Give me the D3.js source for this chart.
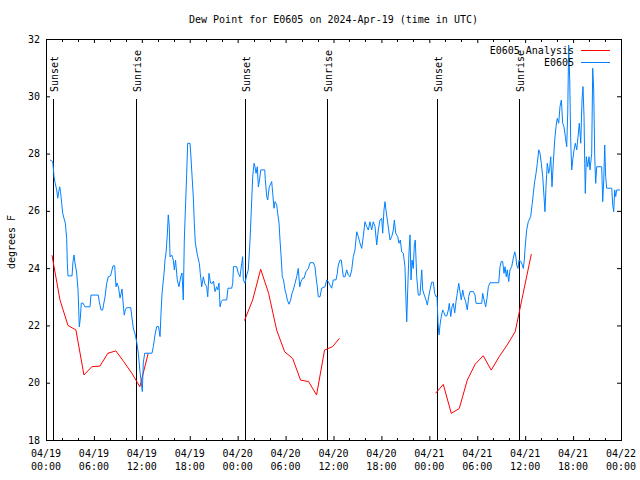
<!DOCTYPE html>
<html><head><meta charset="utf-8">
<script src="https://cdn.jsdelivr.net/npm/d3@7"></script>
<style>
html,body{margin:0;padding:0;background:#fff;}
text{font-family:"DejaVu Sans Mono","Liberation Mono",monospace;font-size:10px;fill:#000;}
</style></head><body>
<svg id="chart" width="640" height="480"></svg>
<script>
// ---- data (hours since 2024-04-19 00:00 UTC) ----
const title = "Dew Point for E0605 on 2024-Apr-19 (time in UTC)";
const yLabel = "degrees F";
const yTicks = [18, 20, 22, 24, 26, 28, 30, 32];
const xTickHours = [0, 6, 12, 18, 24, 30, 36, 42, 48, 54, 60, 66, 72];
const xTickDates = ["04/19","04/19","04/19","04/19","04/20","04/20","04/20","04/20","04/21","04/21","04/21","04/21","04/22"];
const xTickTimes = ["00:00","06:00","12:00","18:00","00:00","06:00","12:00","18:00","00:00","06:00","12:00","18:00","00:00"];
const sunEventHours = [0.88, 11.31, 24.96, 35.22, 49.0, 59.27];
const sunEventNames = ["Sunset","Sunrise","Sunset","Sunrise","Sunset","Sunrise"];

const obsHours = [0.50,0.84,0.94,1.00,1.16,1.34,1.47,1.59,1.72,1.84,1.97,2.09,2.25,2.42,2.59,2.67,2.75,3.26,3.38,3.51,3.63,3.84,4.01,4.17,4.30,4.42,4.63,4.88,5.51,5.63,6.55,6.67,6.89,7.10,7.20,7.39,7.60,7.80,8.08,8.39,8.60,8.77,8.89,9.08,9.27,9.39,9.52,9.68,9.80,9.93,10.11,10.61,10.77,10.93,11.18,11.36,11.56,11.77,11.90,12.06,12.18,12.36,13.27,13.44,13.65,13.86,14.09,14.28,14.40,14.53,14.78,14.90,15.03,15.19,15.31,15.44,15.53,15.74,15.94,16.07,16.22,16.44,16.65,16.87,17.03,17.19,17.32,17.44,17.62,17.74,18.03,18.12,18.28,18.45,18.57,18.70,18.95,19.20,19.32,19.50,19.70,19.87,20.12,20.25,20.41,20.60,20.82,20.97,21.16,21.37,21.51,21.66,21.79,21.95,22.13,22.63,22.79,23.25,23.38,23.48,23.88,24.08,24.29,24.51,24.63,24.71,24.92,25.13,25.33,25.55,25.76,25.88,26.05,26.17,26.30,26.46,26.59,26.74,26.89,27.39,27.46,27.64,27.76,27.96,28.26,28.39,28.55,28.68,28.89,29.01,29.18,29.30,29.43,29.59,29.74,29.93,30.05,30.22,30.43,30.64,30.80,30.97,31.18,31.39,31.59,31.77,31.93,32.14,32.31,32.56,32.85,33.06,33.47,33.68,33.81,33.97,34.10,34.31,34.52,34.94,35.15,35.35,35.56,35.77,35.98,36.31,36.48,36.60,36.81,36.98,37.10,37.23,37.44,37.65,37.85,38.07,38.28,38.48,38.69,38.91,39.11,39.32,39.53,39.73,39.94,40.16,40.36,40.57,40.78,40.98,41.20,41.41,41.61,41.82,42.04,42.16,42.32,42.45,42.57,42.74,42.91,43.08,43.29,43.49,43.62,43.79,44.04,44.20,44.37,44.54,44.74,44.95,45.08,45.17,45.29,45.45,45.58,45.71,45.83,45.99,46.12,46.24,46.42,46.62,46.83,47.05,47.17,47.37,47.58,47.75,47.92,48.08,48.30,48.50,48.67,48.84,48.96,49.09,49.21,49.34,49.46,49.67,49.84,50.00,50.18,50.38,50.50,50.68,50.84,51.00,51.18,51.34,51.50,51.68,51.84,52.00,52.18,52.34,52.55,52.75,52.93,53.09,53.51,53.72,53.85,54.56,54.68,54.85,55.06,55.22,55.39,55.60,56.69,56.85,57.01,57.18,57.35,57.48,57.64,57.76,57.94,58.10,58.31,58.51,58.69,58.81,58.94,59.10,59.23,59.48,59.64,59.77,59.89,60.02,60.19,60.39,60.69,60.89,61.02,61.19,61.36,61.52,61.70,61.86,62.02,62.20,62.36,62.48,62.61,62.77,62.95,63.07,63.20,63.36,63.52,63.70,63.86,64.02,64.20,64.36,64.53,64.70,64.86,65.03,65.20,65.33,65.45,65.58,65.70,65.83,65.96,66.12,66.28,66.46,66.62,66.78,66.96,67.12,67.24,67.37,67.46,67.53,67.66,67.83,67.99,68.12,68.33,68.46,68.58,68.71,68.83,68.96,69.58,69.71,69.84,69.96,70.08,70.21,70.84,70.96,71.09,71.21,71.34,71.46,71.88];
const obsValues = [27.78,27.72,27.43,27.19,26.96,26.73,26.44,26.67,26.84,26.61,26.26,25.92,25.74,25.57,25.04,24.17,23.73,23.73,24.22,24.46,24.18,23.83,23.24,21.95,22.26,22.78,22.78,22.65,22.65,23.06,23.06,22.83,22.54,22.54,22.71,23.00,23.47,23.70,23.73,24.08,24.08,23.35,23.48,23.34,22.96,23.10,23.27,22.71,22.36,22.54,22.62,22.62,22.26,21.91,21.67,21.42,21.03,20.38,20.09,19.69,20.69,21.03,21.03,21.26,21.67,21.96,21.96,21.61,22.42,23.12,23.82,24.28,24.53,25.16,25.86,25.44,24.39,24.46,24.28,23.94,24.28,23.59,23.35,23.70,23.83,22.89,24.98,25.93,27.32,28.36,28.36,28.02,27.25,26.45,25.57,24.88,24.46,24.17,23.82,23.35,23.70,23.47,23.35,23.00,23.82,23.48,23.47,23.55,23.18,23.35,23.24,23.48,22.65,22.83,22.89,22.89,23.30,23.30,23.47,24.05,24.05,23.82,23.70,24.17,24.40,23.59,23.47,23.76,23.94,24.98,26.38,27.19,27.66,27.54,27.31,27.54,26.84,27.08,27.43,27.43,27.08,26.50,26.38,26.84,27.02,26.61,26.09,26.32,26.21,25.92,25.57,24.98,24.46,23.70,23.59,23.24,23.12,22.89,22.74,22.89,23.12,23.24,23.47,23.70,23.99,23.35,23.53,23.65,23.65,23.88,23.99,24.19,24.19,24.05,23.70,23.35,23.00,23.00,23.30,23.35,23.59,23.53,23.41,23.30,23.59,23.59,23.82,24.11,24.28,24.28,23.99,23.70,23.70,23.94,23.76,23.70,23.94,24.40,24.63,25.27,25.10,24.87,24.69,25.10,25.62,25.45,25.33,25.62,25.33,25.62,25.45,24.81,25.33,25.68,25.74,25.22,26.03,26.32,26.03,25.68,25.33,24.98,25.10,25.33,25.68,25.22,25.10,24.87,24.98,24.57,24.52,24.05,22.83,22.13,23.24,24.53,25.16,23.59,24.28,23.99,24.81,24.98,23.70,23.06,23.06,23.94,23.24,23.06,22.89,22.71,23.00,23.24,23.51,23.51,23.12,23.00,23.03,22.07,21.67,22.02,22.25,22.54,22.44,22.33,22.33,22.54,22.77,22.31,22.65,22.77,22.44,22.83,23.12,23.47,23.18,22.89,23.24,23.00,22.83,22.54,23.00,23.18,23.18,23.06,22.77,22.77,23.12,22.89,22.65,22.95,23.35,23.49,23.49,24.05,24.23,24.23,23.82,24.05,23.70,23.94,23.53,23.94,24.05,24.34,24.57,24.46,24.11,23.99,24.28,24.23,24.11,23.99,24.28,24.81,25.33,25.62,25.80,26.26,26.61,27.02,27.31,27.66,28.13,28.01,27.66,27.19,26.50,25.97,26.84,27.66,27.31,27.49,27.89,26.84,27.66,28.47,28.94,29.23,29.06,29.64,29.87,29.06,28.94,28.59,28.24,29.41,31.79,30.57,28.47,27.43,27.78,28.13,28.36,28.13,28.59,29.06,28.36,29.87,30.34,29.29,27.66,26.61,27.89,27.54,27.89,27.43,28.01,30.98,30.22,27.89,26.96,27.54,27.54,26.32,27.08,28.30,27.19,26.79,26.79,26.21,25.97,26.73,26.50,26.73,26.73];

const anaHours1 = [0.75,1.75,2.75,3.75,4.75,5.75,6.75,7.75,8.75,9.75,10.75,11.75,12.80];
const anaValues1 = [24.45,22.89,22.00,21.84,20.27,20.56,20.58,21.03,21.11,20.73,20.33,19.86,21.03];
const anaHours2 = [24.85,25.88,26.88,27.88,28.88,29.88,30.88,31.88,32.88,33.88,34.88,35.88,36.75];
const anaValues2 = [22.17,22.89,23.96,23.12,21.84,21.08,20.85,20.09,20.04,19.57,21.14,21.26,21.55];
const anaHours3 = [48.78,49.75,50.75,51.75,52.75,53.75,54.75,55.75,56.75,57.75,58.75,59.75,60.77];
const anaValues3 = [19.63,19.94,18.93,19.10,20.09,20.65,20.94,20.44,20.91,21.32,21.78,23.12,24.49];

const seriesNames = ["E0605 Analysis", "E0605"];
const seriesColors = ["#ff0000", "#0080ff"];

// ---- drawing ----
const svg = d3.select("#chart");
const L = 46, R = 621, T = 39, B = 440;
const x = d3.scaleLinear().domain([0, 72]).range([L, R]);
const y = d3.scaleLinear().domain([18, 32]).range([B, T]);

svg.append("rect").attr("width", 640).attr("height", 480).attr("fill", "#fff");

// title
svg.append("text").attr("x", (L + R) / 2).attr("y", 23).attr("text-anchor", "middle").text(title);

// y label
svg.append("text").attr("transform", "translate(14.5,242) rotate(-90)").attr("text-anchor", "middle").text(yLabel);

const g = svg.append("g");

// minor x ticks (every 2 h), mirrored top
const minorX = d3.range(0, 73, 2).filter(h => h % 6 !== 0);
g.selectAll(".mxb").data(minorX).join("line")
  .attr("x1", d => Math.round(x(d)) + 0.5).attr("x2", d => Math.round(x(d)) + 0.5)
  .attr("y1", B).attr("y2", B - 2).attr("stroke", "#000");
g.selectAll(".mxt").data(minorX).join("line")
  .attr("x1", d => Math.round(x(d)) + 0.5).attr("x2", d => Math.round(x(d)) + 0.5)
  .attr("y1", T + 1).attr("y2", T + 3).attr("stroke", "#000");

const xAxisB = d3.axisBottom(x).tickValues(xTickHours).tickSize(-4).tickFormat("");
const xAxisT = d3.axisTop(x).tickValues(xTickHours).tickSize(-4).tickFormat("");
const yAxisL = d3.axisLeft(y).tickValues(yTicks).tickSize(-4).tickFormat("");
const yAxisR = d3.axisRight(y).tickValues(yTicks).tickSize(-4).tickFormat("");
function styleAxis(sel) { sel.select(".domain").remove(); sel.selectAll("line").attr("stroke", "#000"); }
g.append("g").attr("transform", `translate(0,${B})`).call(xAxisB).call(styleAxis);
g.append("g").attr("transform", `translate(0,${T})`).call(xAxisT).call(styleAxis);
g.append("g").attr("transform", `translate(${L},0)`).call(yAxisL).call(styleAxis);
g.append("g").attr("transform", `translate(${R},0)`).call(yAxisR).call(styleAxis);

// tick labels
yTicks.forEach(v => {
  svg.append("text").attr("x", 40).attr("y", y(v) + 3.5).attr("text-anchor", "end").text(v);
});
xTickHours.forEach((h, i) => {
  svg.append("text").attr("x", x(h)).attr("y", 457).attr("text-anchor", "middle").text(xTickDates[i]);
  svg.append("text").attr("x", x(h)).attr("y", 470).attr("text-anchor", "middle").text(xTickTimes[i]);
});

// frame
svg.append("rect").attr("x", L + 0.5).attr("y", T + 0.5).attr("width", R - L).attr("height", B - T)
  .attr("fill", "none").attr("stroke", "#000");

// sunrise / sunset
sunEventHours.forEach((h, i) => {
  const xx = Math.round(x(h)) + 0.5;
  svg.append("line").attr("x1", xx).attr("x2", xx).attr("y1", 99).attr("y2", B).attr("stroke", "#000");
  svg.append("text").attr("transform", `translate(${xx + 4.5},92) rotate(-90)`).attr("text-anchor", "start").text(sunEventNames[i]);
});

// lines
const line = d3.line().x(d => x(d[0])).y(d => y(d[1]));
[[anaHours1, anaValues1], [anaHours2, anaValues2], [anaHours3, anaValues3]].forEach(([hs, vs]) => {
  svg.append("path").datum(hs.map((h, i) => [h, vs[i]])).attr("d", line)
    .attr("fill", "none").attr("stroke", seriesColors[0]).attr("stroke-width", 1);
});
svg.append("path").datum(obsHours.map((h, i) => [h, obsValues[i]])).attr("d", line)
  .attr("fill", "none").attr("stroke", seriesColors[1]).attr("stroke-width", 1);

// legend
seriesNames.forEach((n, i) => {
  const ly = 50 + i * 12;
  svg.append("text").attr("x", 574).attr("y", ly + 3.5).attr("text-anchor", "end").text(n);
  svg.append("line").attr("x1", 581).attr("x2", 610).attr("y1", ly + 0.5).attr("y2", ly + 0.5)
    .attr("stroke", seriesColors[i]);
});
</script>
</body></html>
